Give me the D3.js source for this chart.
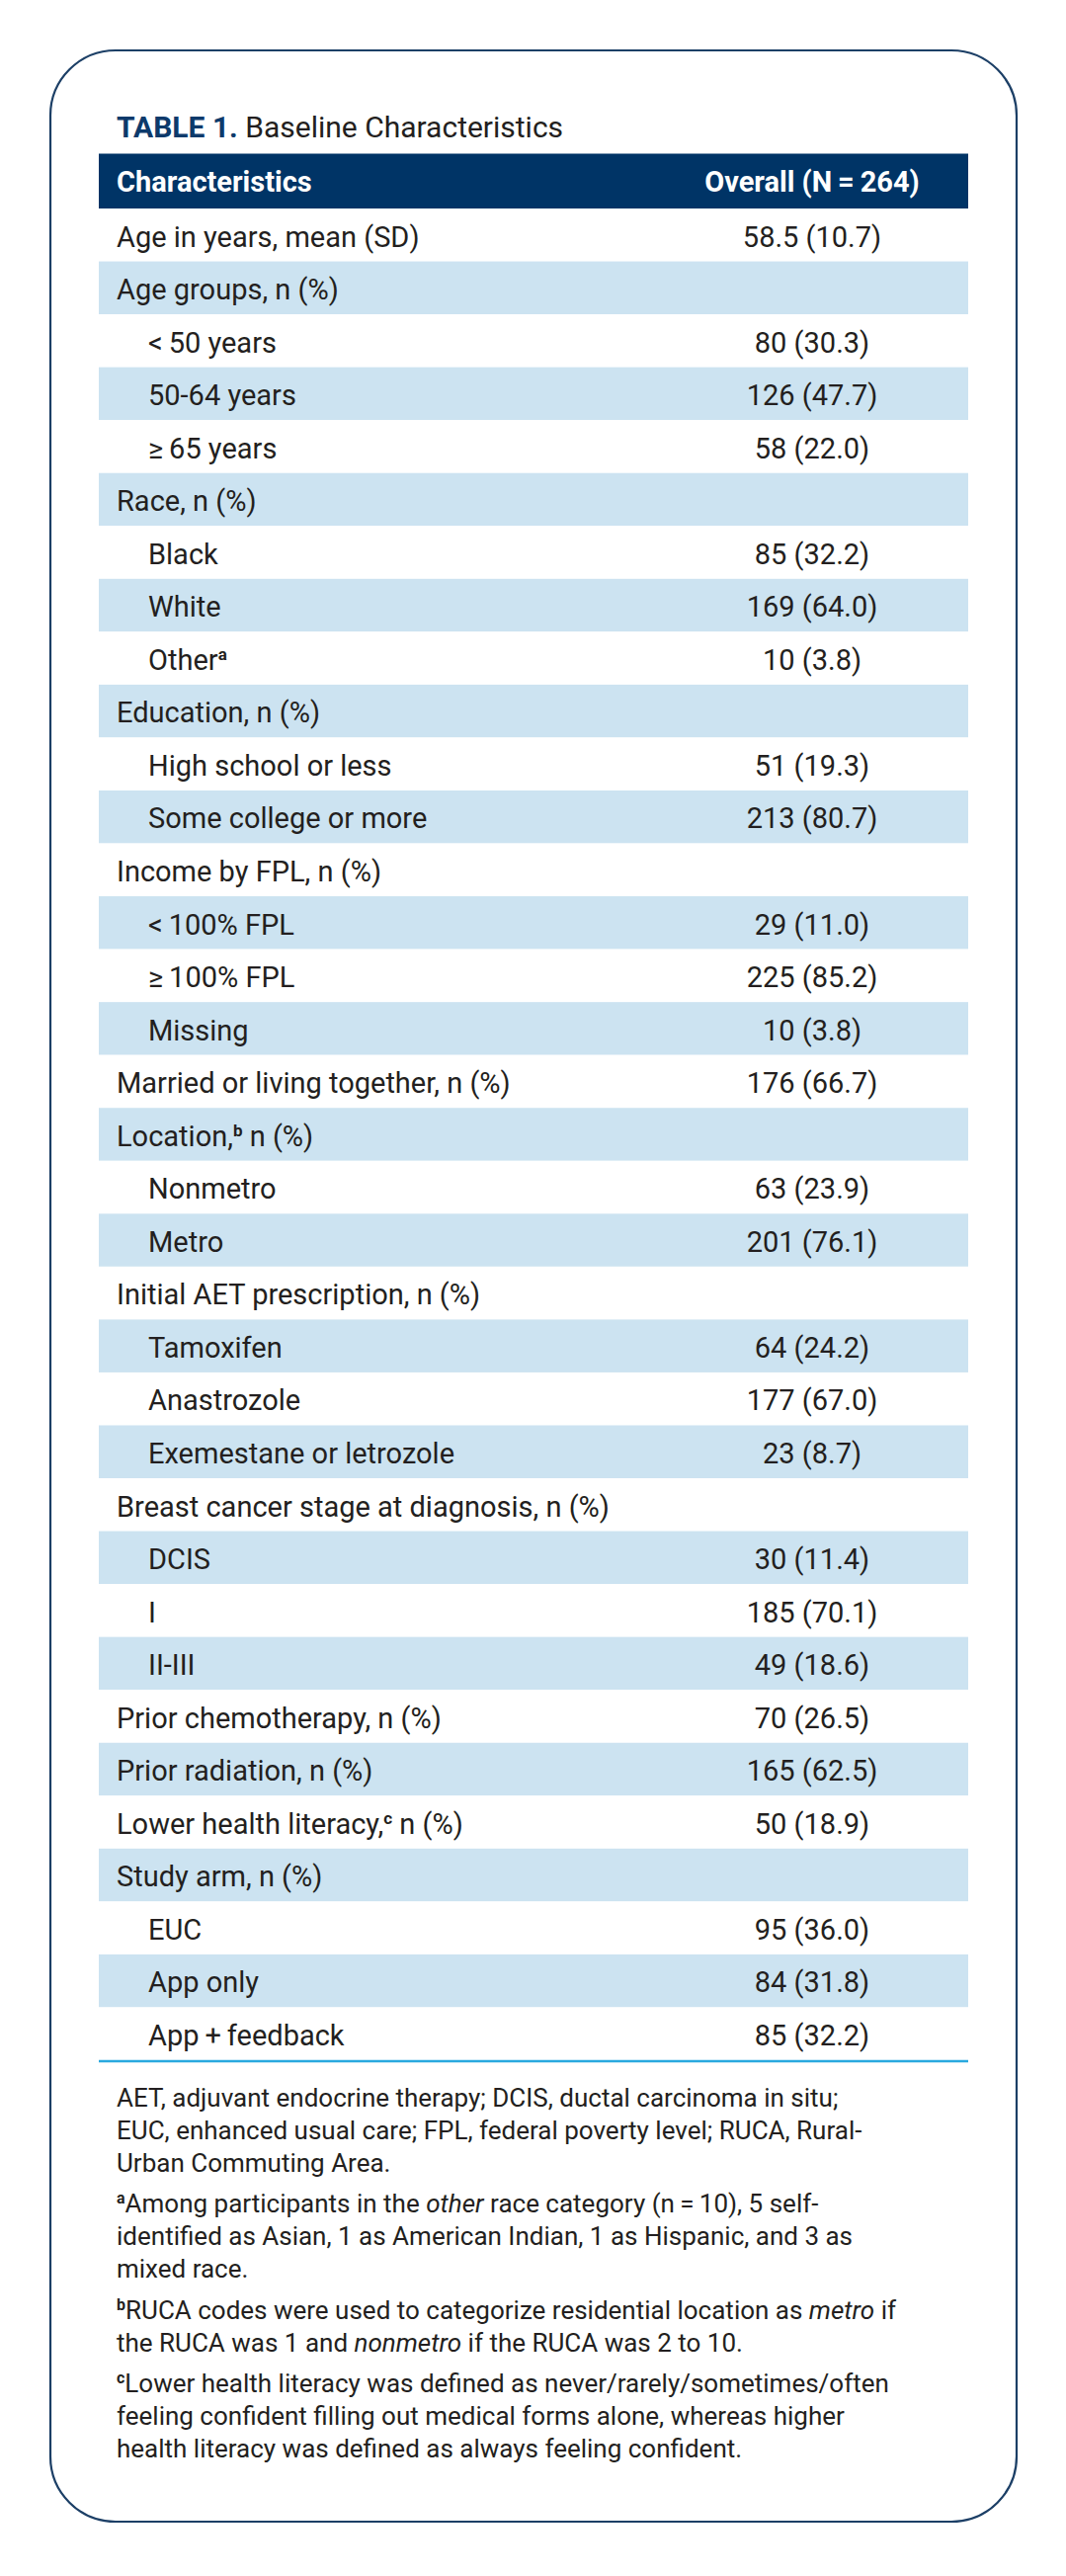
<!DOCTYPE html>
<html>
<head>
<meta charset="utf-8">
<script src="https://cdn.jsdelivr.net/npm/d3@7"></script>
<style>
  body { margin: 0; background: #fff; }
  svg { display: block; }
  text { font-family: Roboto, "Open Sans", sans-serif; fill: #231f20; }
</style>
</head>
<body>
<div id="chart"></div>
<script>
// table content
const labels = [
    "Age in years, mean (SD)", "Age groups, n (%)", "<\u200950 years", "50-64 years", "\u2265\u200965 years",
    "Race, n (%)", "Black", "White", "Other^a",
    "Education, n (%)", "High school or less", "Some college or more",
    "Income by FPL, n (%)", "<\u2009100% FPL", "\u2265\u2009100% FPL", "Missing",
    "Married or living together, n (%)",
    "Location,^b n (%)", "Nonmetro", "Metro",
    "Initial AET prescription, n (%)", "Tamoxifen", "Anastrozole", "Exemestane or letrozole",
    "Breast cancer stage at diagnosis, n (%)", "DCIS", "I", "II-III",
    "Prior chemotherapy, n (%)", "Prior radiation, n (%)", "Lower health literacy,^c n (%)",
    "Study arm, n (%)", "EUC", "App only", "App\u2009+\u2009feedback"
];
const levels = [
    0, 0, 1, 1, 1,
    0, 1, 1, 1,
    0, 1, 1,
    0, 1, 1, 1,
    0,
    0, 1, 1,
    0, 1, 1, 1,
    0, 1, 1, 1,
    0, 0, 0,
    0, 1, 1, 1
];
const values = [
    "58.5 (10.7)", "", "80 (30.3)", "126 (47.7)", "58 (22.0)",
    "", "85 (32.2)", "169 (64.0)", "10 (3.8)",
    "", "51 (19.3)", "213 (80.7)",
    "", "29 (11.0)", "225 (85.2)", "10 (3.8)",
    "176 (66.7)",
    "", "63 (23.9)", "201 (76.1)",
    "", "64 (24.2)", "177 (67.0)", "23 (8.7)",
    "", "30 (11.4)", "185 (70.1)", "49 (18.6)",
    "70 (26.5)", "165 (62.5)", "50 (18.9)",
    "", "95 (36.0)", "84 (31.8)", "85 (32.2)"
];
const headers = ["Characteristics", "Overall (N\u2009=\u2009264)"];
const titleBold = "TABLE 1.";
const titleText = "Baseline Characteristics";

// footnotes, one array of lines per paragraph; ^x = superscript, _word_ = italic
const footnotes = [
    ["AET, adjuvant endocrine therapy; DCIS, ductal carcinoma in situ;",
     "EUC, enhanced usual care; FPL, federal poverty level; RUCA, Rural-",
     "Urban Commuting Area."],
    ["^aAmong participants in the _other_ race category (n\u2009=\u200910), 5 self-",
     "identified as Asian, 1 as American Indian, 1 as Hispanic, and 3 as",
     "mixed race."],
    ["^bRUCA codes were used to categorize residential location as _metro_ if",
     "the RUCA was 1 and _nonmetro_ if the RUCA was 2 to 10."],
    ["^cLower health literacy was defined as never/rarely/sometimes/often",
     "feeling confident filling out medical forms alone, whereas higher",
     "health literacy was defined as always feeling confident."]
];

const W = 1079, H = 2607;
const tableLeft = 100, tableRight = 980;
const textX = 118, indent = 32, valueX = 822;

const svg = d3.select("#chart").append("svg")
    .attr("width", W)
    .attr("height", H)
    .attr("viewBox", `0 0 ${W} ${H}`);

// rounded frame
svg.append("rect")
    .attr("x", 51).attr("y", 51)
    .attr("width", 978).attr("height", 2501)
    .attr("rx", 66).attr("ry", 66)
    .attr("fill", "none")
    .attr("stroke", "#1c3f66")
    .attr("stroke-width", 2.2);

// title
const title = svg.append("text")
    .attr("x", textX).attr("y", 139)
    .style("font-size", "30px");
title.append("tspan").text(titleBold)
    .style("font-weight", 700).style("fill", "#0d3a6b");
title.append("tspan").text(" " + titleText);

// header bar
svg.append("rect")
    .attr("x", tableLeft).attr("y", 155.5)
    .attr("width", tableRight - tableLeft).attr("height", 55.5)
    .attr("fill", "#003466");

svg.append("text")
    .attr("x", textX).attr("y", 194)
    .style("font-size", "29px").style("font-weight", 700).style("fill", "#fff")
    .text(headers[0]);
svg.append("text")
    .attr("x", valueX).attr("y", 194)
    .attr("text-anchor", "middle")
    .style("font-size", "29px").style("font-weight", 700).style("fill", "#fff")
    .text(headers[1]);

// rows
const y = d3.scaleBand()
    .domain(d3.range(labels.length))
    .range([211, 2085]);

// split text with ^x superscripts and _italic_ words into pieces
const pieces = (str) => {
    let out = [];
    let re = /\^([a-z])|_([^_]+)_|([^\^_]+)/g;
    let m;
    while ((m = re.exec(str)) !== null) {
        if (m[1]) out.push({t: m[1], sup: true});
        else if (m[2]) out.push({t: m[2], it: true});
        else out.push({t: m[3]});
    }
    return out;
};

const addPieces = (textSel, str, size) => {
    let shift = Math.round(size * 0.36);
    let raised = false;
    pieces(str).forEach(p => {
        let ts = textSel.append("tspan").text(p.t);
        if (p.sup) {
            ts.attr("dy", -shift).style("font-size", Math.round(size * 0.6) + "px")
              .style("font-weight", 700);
            raised = true;
        } else {
            if (raised) { ts.attr("dy", shift); raised = false; }
            if (p.it) ts.style("font-style", "italic");
        }
    });
};

const row = svg.append("g").attr("class", "rows")
    .selectAll("g")
    .data(labels)
    .enter()
    .append("g")
    .attr("transform", (d, i) => `translate(0,${y(i)})`);

row.append("rect")
    .attr("x", tableLeft)
    .attr("width", tableRight - tableLeft)
    .attr("height", y.bandwidth())
    .attr("fill", (d, i) => i % 2 ? "#cce3f1" : "#fff");

row.append("text")
    .attr("x", (d, i) => textX + levels[i] * indent)
    .attr("y", 38.5)
    .style("font-size", "29px")
    .each(function (d) { addPieces(d3.select(this), d, 29); });

row.append("text")
    .attr("x", valueX)
    .attr("y", 38.5)
    .attr("text-anchor", "middle")
    .style("font-size", "29px")
    .text((d, i) => values[i]);

// bottom rule
svg.append("line")
    .attr("x1", tableLeft).attr("x2", tableRight)
    .attr("y1", 2086).attr("y2", 2086)
    .attr("stroke", "#29a9df")
    .attr("stroke-width", 2.5);

// footnotes
const lineGap = 33, paraGap = 8.5;
let baseY = 2131.5;
const notes = svg.append("g").attr("class", "notes");
footnotes.forEach(para => {
    para.forEach(line => {
        let t = notes.append("text")
            .attr("x", textX).attr("y", baseY)
            .style("font-size", "26px");
        addPieces(t, line, 26);
        baseY += lineGap;
    });
    baseY += paraGap;
});
</script>
</body>
</html>
